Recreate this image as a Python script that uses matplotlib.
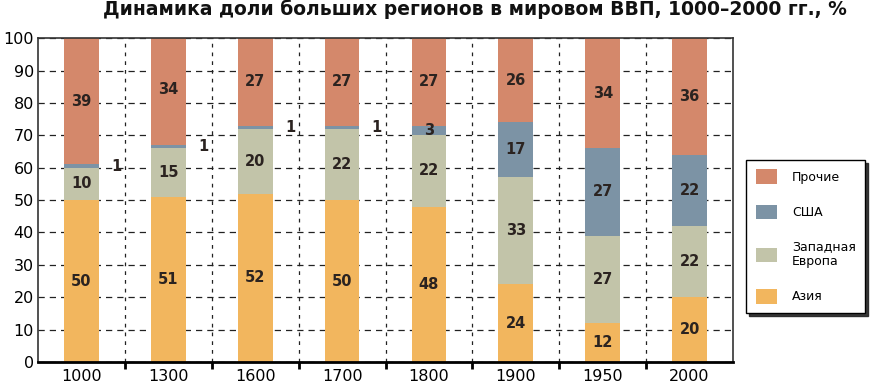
import matplotlib.pyplot as plt
import numpy as np

years = ['1000', '1300', '1600', '1700', '1800', '1900', '1950', '2000']
asia = [50, 51, 52, 50, 48, 24, 12, 20]
west_europe = [10, 15, 20, 22, 22, 33, 27, 22]
usa = [1, 1, 1, 1, 3, 17, 27, 22]
other = [39, 34, 27, 27, 27, 26, 34, 36]

series = [
    ('Азия', asia, '#F2B65E'),
    ('Западная\nЕвропа', west_europe, '#C2C4A9'),
    ('США', usa, '#7C93A5'),
    ('Прочие', other, '#D4886B'),
]

plt.rcParams['font.family'] = ['DejaVu Sans']


def main():

    fig = plt.figure(figsize=(8.72, 3.85), dpi=100)
    ax = fig.add_axes([0.0436, 0.0597, 0.797, 0.8413])

    x = np.arange(len(years))
    bottom = np.zeros(len(years))
    handles = []
    for name, vals, color in series:
        vals = np.array(vals, dtype=float)
        bars = ax.bar(x, vals, bottom=bottom, width=0.4, color=color,
                      label=name, zorder=2)
        handles.append(bars)
        for xi, b, v in zip(x, bottom, vals):
            if v >= 3:
                ax.text(xi, b + v / 2, f'{v:.0f}', ha='center', va='center',
                        fontsize=10.5, fontweight='bold', color='#2b2320', zorder=3)
            else:
                ax.text(xi + 0.4, b + v / 2, f'{v:.0f}', ha='center',
                        va='center', fontsize=10.5, fontweight='bold',
                        color='#2b2320', zorder=3)
        bottom += vals

    ax.set_xlim(-0.5, len(years) - 0.5)
    ax.set_ylim(0, 100)
    ax.set_yticks(np.arange(0, 101, 10))
    ax.set_xticks(x)
    ax.set_xticklabels(years)
    ax.set_xticks(np.arange(0.5, len(years) - 0.5, 1.0), minor=True)
    ax.tick_params(axis='x', which='major', length=0, labelsize=11.5, pad=5)
    ax.tick_params(axis='x', which='minor', length=5, width=2, direction='out')
    ax.tick_params(axis='y', length=0, labelsize=11.5, pad=3)

    ax.grid(axis='y', which='major', color='#222222', ls=(0, (5, 4)), lw=0.9, zorder=1)
    ax.grid(axis='x', which='minor', color='#222222', ls=(0, (3, 4)), lw=0.9, zorder=1)
    ax.set_axisbelow(True)

    for side in ['left', 'right', 'top']:
        ax.spines[side].set_linewidth(1.2)
        ax.spines[side].set_color('#333333')
    ax.spines['bottom'].set_linewidth(2)

    fig.text(0.545, 0.975, 'Динамика доли больших регионов в мировом ВВП, 1000–2000 гг., %',
             fontsize=13.5, fontweight='bold', ha='center', va='center',
             color='#111111')

    leg = fig.legend(handles[::-1], [s[0] for s in series][::-1],
                     loc='upper left', bbox_to_anchor=(0.856, 0.585),
                     frameon=True, fancybox=False,
                     shadow={'color': '#222222', 'alpha': 0.9},
                     edgecolor='black', fontsize=9, handlelength=1.7,
                     handleheight=1.45, labelspacing=1.65, borderpad=0.75,
                     handletextpad=1.2, borderaxespad=0)
    leg.get_frame().set_linewidth(1.0)

    plt.savefig('out.png', dpi=100)


if __name__ == '__main__':
    main()
